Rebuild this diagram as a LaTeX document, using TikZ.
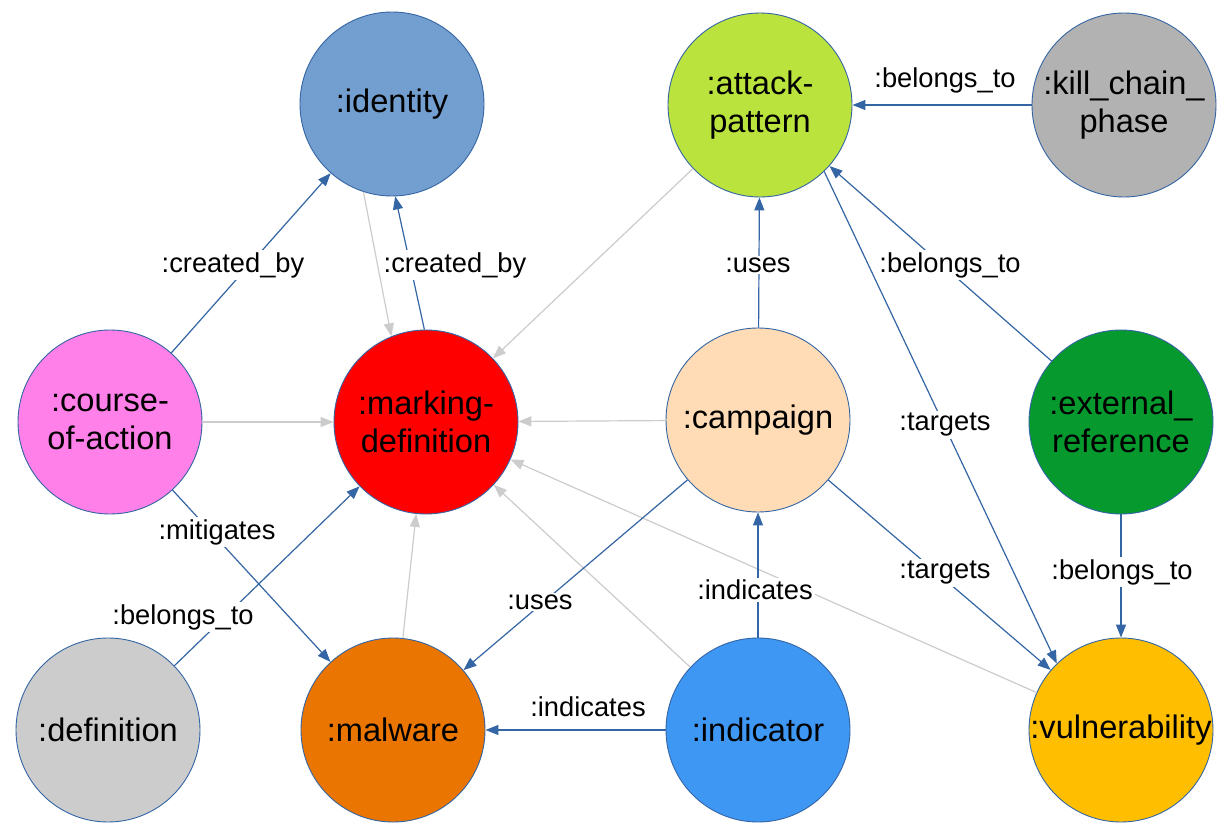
\documentclass[tikz,border=0pt]{standalone}
\usepackage{fontspec}
\setmainfont{Liberation Sans}
\usetikzlibrary{arrows.meta}
\definecolor{edgeblue}{HTML}{3465A4}
\definecolor{edgegrey}{HTML}{CCCCCC}
\definecolor{cIdentity}{HTML}{729FCF}
\definecolor{cAttack}{HTML}{BBE33D}
\definecolor{cKill}{HTML}{B2B2B2}
\definecolor{cCourse}{HTML}{FF80E8}
\definecolor{cMarking}{HTML}{FF0000}
\definecolor{cCampaign}{HTML}{FFDBB6}
\definecolor{cExt}{HTML}{06992E}
\definecolor{cDef}{HTML}{CCCCCC}
\definecolor{cMalware}{HTML}{EA7500}
\definecolor{cIndicator}{HTML}{3F97F4}
\definecolor{cVuln}{HTML}{FFBF00}
\begin{document}
\begin{tikzpicture}[x=1pt,y=-1pt,
  ent/.style={circle, draw=edgeblue, line width=0.9pt, minimum size=184pt, inner sep=0pt,
    align=center, text=black, font=\fontsize{32.6}{37.5}\selectfont},
  rel/.style={draw=edgeblue, line width=1.2pt, -{Triangle[length=13pt,width=10pt]}},
  greyrel/.style={draw=edgegrey, line width=1.2pt, -{Triangle[length=13pt,width=10pt]}},
  lbl/.style={fill=white, inner sep=2pt, text=black, font=\fontsize{27.3}{30}\selectfont}
]
\useasboundingbox (0,0) rectangle (1221,829);
\fill[white] (0,0) rectangle (1221,829);

% entities
\node[ent, fill=cIdentity] (identity) at (392,104) {:identity};
\node[ent, fill=cAttack] (attack) at (760,105) {:attack-\\pattern};
\node[ent, fill=cKill] (kill) at (1124,105) {:kill\_chain\_\\phase};
\node[ent, fill=cCourse] (course) at (110,422) {:course-\\of-action};
\node[ent, fill=cMarking] (marking) at (426,422) {:marking-\\definition};
\node[ent, fill=cCampaign] (campaign) at (758,420) {:campaign};
\node[ent, fill=cExt] (extref) at (1121,422) {:external\_\\reference};
\node[ent, fill=cDef] (definition) at (108,730) {:definition};
\node[ent, fill=cMalware] (malware) at (393,730) {:malware};
\node[ent, fill=cIndicator] (indicator) at (758,730) {:indicator};
\node[ent, fill=cVuln] (vuln) at (1121,730) {:vulnerability};

% grey connectors to marking-definition
\draw[greyrel] (identity.252) -- (marking.112);
\draw[greyrel] (attack) -- (marking);
\draw[greyrel] (course) -- (marking);
\draw[greyrel] (campaign) -- (marking);
\draw[greyrel] (vuln) -- (marking);
\draw[greyrel] (indicator) -- (marking);
\draw[greyrel] (malware) -- (marking);

% blue connectors
\draw[rel] (kill) -- (attack);
\draw[rel] (course) -- (identity);
\draw[rel] (marking.91) -- (identity.272);
\draw[rel] (campaign) -- (attack);
\draw[rel] (extref) -- (attack);
\draw[rel] (attack.-46) -- (vuln.134);
\draw[rel] (campaign) -- (vuln);
\draw[rel] (extref) -- (vuln);
\draw[rel] (indicator) -- (campaign);
\draw[rel] (indicator) -- (malware);
\draw[rel] (campaign) -- (malware);
\draw[rel] (course) -- (malware);
\draw[rel] (definition) -- (marking);

% labels
\node[lbl] (l1) at (945,80) {:belongs\_to};
\node[lbl] (l2) at (233,265) {:created\_by};
\node[lbl] (l3) at (455,265) {:created\_by};
\node[lbl] (l4) at (758,265) {:uses};
\node[lbl] (l5) at (950,265) {:belongs\_to};
\node[lbl] (l6) at (945,425) {:targets};
\node[lbl] (l7) at (217,532) {:mitigates};
\node[lbl] (l8) at (183,617) {:belongs\_to};
\node[lbl] (l9) at (540,602) {:uses};
\node[lbl] (l10) at (755,590) {:indicates};
\node[lbl] (l11) at (945,573) {:targets};
\node[lbl] (l12) at (1122,572) {:belongs\_to};
\node[lbl] (l13) at (588,707) {:indicates};
\end{tikzpicture}
\end{document}
